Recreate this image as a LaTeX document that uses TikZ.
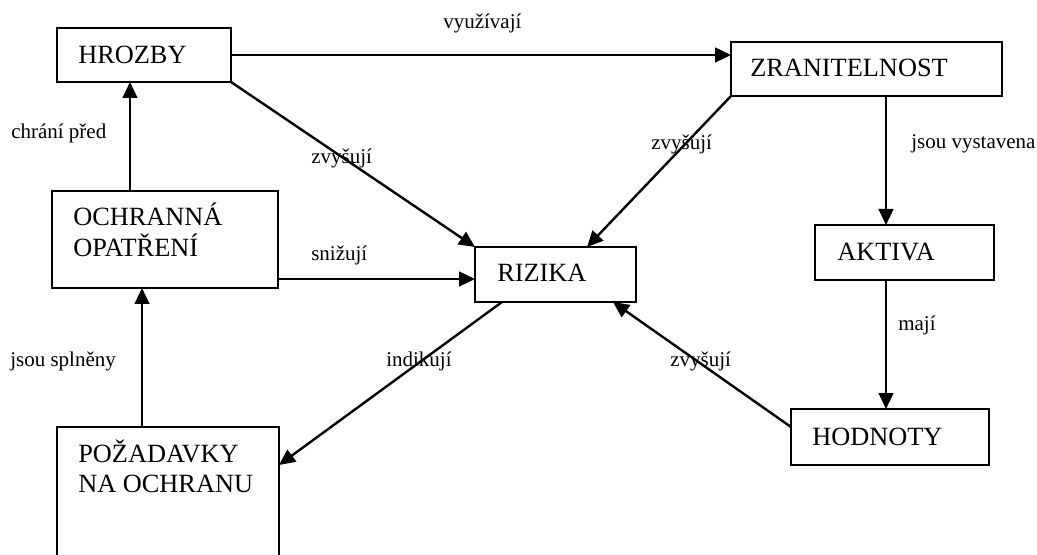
\documentclass[tikz,border=0pt]{standalone}
\usepackage{fontspec}
\setmainfont{Liberation Serif}
\usetikzlibrary{arrows.meta,calc}
\tikzset{
  box/.style={draw,line width=1.7pt,inner sep=0pt,outer sep=0pt,rectangle},
  boxtext/.style={anchor=base west,inner sep=0pt,font=\fontsize{19.75}{23.25}\selectfont},
  lbl/.style={anchor=base west,inner sep=0pt,font=\fontsize{15.75}{19}\selectfont},
  conn/.style={line width=1.8pt,-{Triangle[length=12pt,width=11pt]}}
}
\begin{document}
\begin{tikzpicture}[x=0.75pt,y=-0.75pt]
\useasboundingbox (0,0) rectangle (1037,555);
% boxes
\node[box,minimum width=130.5pt,minimum height=40.5pt] (hrozby) at (144,55) {};
\node[box,minimum width=203.25pt,minimum height=40.5pt] (zran) at (866.5,69) {};
\node[box,minimum width=169.5pt,minimum height=72.75pt] (ochr) at (165,239.5) {};
\node[box,minimum width=120.75pt,minimum height=41.25pt] (rizika) at (555.5,274.5) {};
\node[box,minimum width=166.5pt,minimum height=129.75pt] (pozad) at (168,513.5) {};
\node[box,minimum width=134.25pt,minimum height=41.25pt] (aktiva) at (904.5,252.5) {};
\node[box,minimum width=148.5pt,minimum height=42pt] (hodnoty) at (890,437) {};
% box texts
\node[boxtext] (t1) at (78,64) {HROZBY};
\node[boxtext] (t2) at (750,77) {ZRANITELNOST};
\node[boxtext] (t3) at (73,226) {OCHRANNÁ};
\node[boxtext] (t3b) at (73,257) {OPATŘENÍ};
\node[boxtext] (t4) at (497,282) {RIZIKA};
\node[boxtext] (t5) at (78,462) {POŽADAVKY};
\node[boxtext] (t5b) at (78,492) {NA OCHRANU};
\node[boxtext] (t6) at (837,261) {AKTIVA};
\node[boxtext] (t7) at (812,445) {HODNOTY};
% connectors
\draw[conn] (hrozby.east) -- (hrozby.east -| zran.west);
\draw[conn] (hrozby.south east) -- (rizika.north west);
\draw[conn] ($(ochr.north west)+(78,0)$) -- ($(hrozby.south west)+(73,0)$);
\draw[conn] ($(ochr.south east)+(0,-9)$) -- ($(rizika.west)+(0,4.5)$);
\draw[conn] ($(pozad.north west)+(85,0)$) -- ($(ochr.south west)+(90,0)$);
\draw[conn] ($(rizika.south west)+(27,0)$) -- ($(pozad.north east)+(0,38)$);
\draw[conn] (zran.south west) -- ($(rizika.north west)+(112,0)$);
\draw[conn] ($(zran.south west)+(155,0)$) -- ($(aktiva.north west)+(71,0)$);
\draw[conn] ($(aktiva.south west)+(71,0)$) -- ($(hodnoty.north west)+(95,0)$);
\draw[conn] ($(hodnoty.north west)+(0,18)$) -- ($(rizika.south east)+(-23,0)$);
% labels
\node[lbl] (l1) at (443,29) {využívají};
\node[lbl] (l2) at (11,139) {chrání před};
\node[lbl] (l3) at (311,164) {zvyšují};
\node[lbl] (l4) at (651,150) {zvyšují};
\node[lbl] (l5) at (911,149) {jsou vystavena};
\node[lbl] (l6) at (311,261) {snižují};
\node[lbl] (l7) at (10,366) {jsou splněny};
\node[lbl] (l8) at (386,366) {indikují};
\node[lbl] (l9) at (670,366) {zvyšují};
\node[lbl] (l10) at (898,330) {mají};
\end{tikzpicture}
\end{document}
